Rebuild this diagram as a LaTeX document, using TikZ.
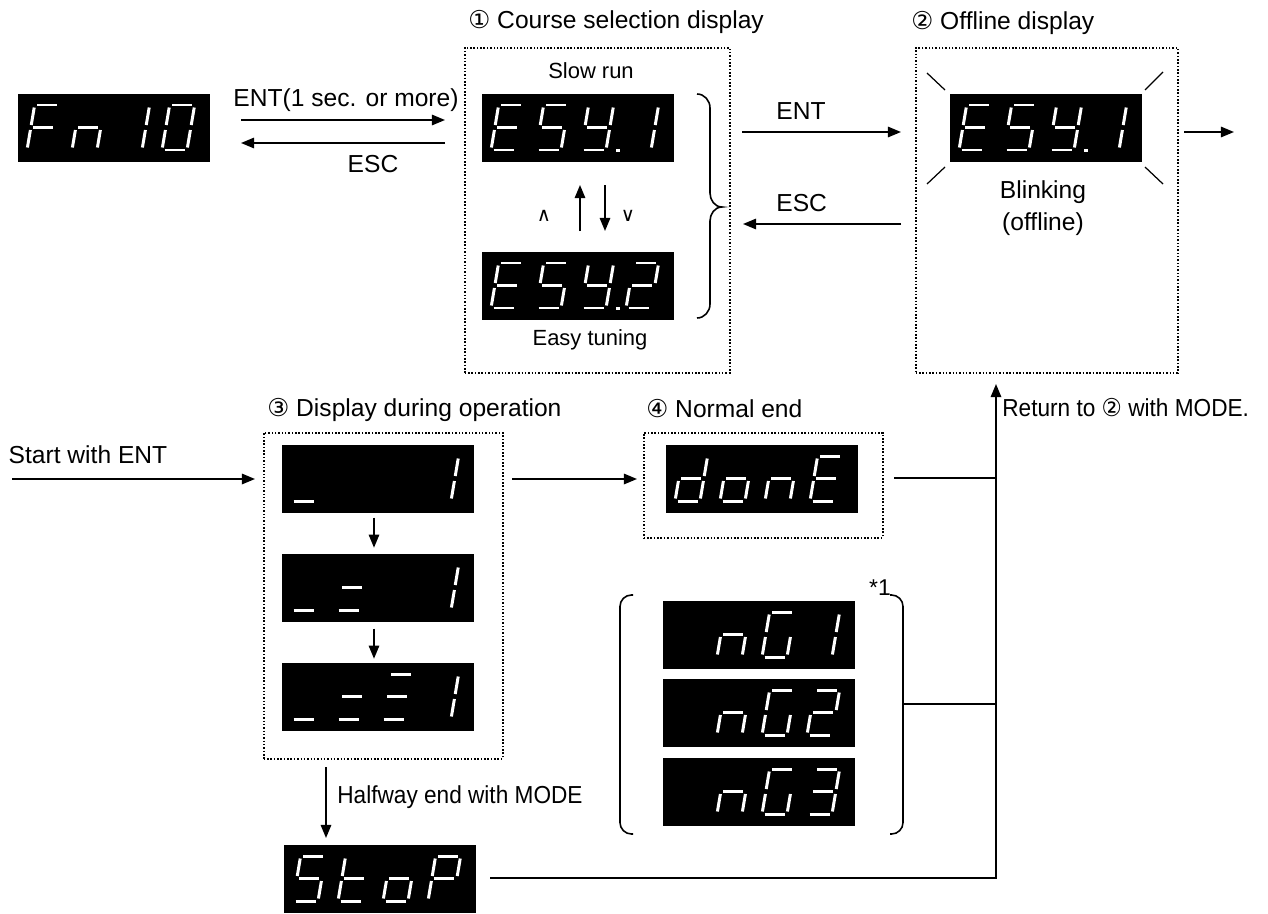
\documentclass[tikz,border=0pt]{standalone}
\usepackage{fontspec}
\usepackage{graphicx}
\setmainfont{Liberation Sans}
\newfontfamily\symfont{DejaVu Sans}
\usetikzlibrary{arrows.meta}
\tikzset{
  lbl/.style={font=\fontsize{14pt}{16pt}\selectfont, inner sep=0pt},
  sml/.style={font=\fontsize{12.5pt}{15pt}\selectfont, inner sep=0pt},
  disp/.style={fill=black, minimum width=3.84cm, minimum height=1.36cm, inner sep=0pt, anchor=north west},
  dbox/.style={draw, densely dotted, line width=0.9pt, inner sep=0pt, anchor=north west},
  conn/.style={line width=0.9pt},
  arr/.style={conn, -{Triangle[length=7.5pt,width=6pt]}},
  segline/.style={white, line width=1.7pt},
  ray/.style={line width=0.7pt},
  caret/.style={font=\symfont\fontsize{11pt}{12pt}\selectfont, inner sep=0pt},
}
% seven segment geometry (local units: px, y up)
\def\sega{(2.5,45)--(22.5,45)}
\def\segb{(25,42.5)--(25,25)}
\def\segc{(25,20)--(25,2.5)}
\def\segd{(2.5,0)--(22.5,0)}
\def\sege{(0,2.5)--(0,20)}
\def\segf{(0,25)--(0,42.5)}
\def\segg{(2.5,22.5)--(22.5,22.5)}
\def\segx{}
\newcommand\sevenseg[7]{%
  \foreach \dl [count=\di from 0] in {{#3},{#4},{#5},{#6}} {
    \begin{scope}[shift={(#1+9+45*\di,#2+56)}, y={(0,0.02cm)}, xslant=0.17]
      \foreach \s in \dl {\edef\tmp{\noexpand\draw[segline] \csname seg\s\endcsname;}\tmp}
    \end{scope}
  }
  \ifnum#7=1 \fill[white] (#1+134,#2+54.5) rectangle (#1+138,#2+58);\fi
}
\begin{document}
\begin{tikzpicture}[x=0.02cm, y=-0.02cm]
\useasboundingbox (0,0) rectangle (1268,913);

% ---------- dotted boxes ----------
\node[dbox, minimum width=5.3cm, minimum height=6.5cm] (cbox) at (464,47) {};
\node[dbox, minimum width=5.24cm, minimum height=6.5cm] (obox) at (915,47) {};
\node[dbox, minimum width=4.78cm, minimum height=6.52cm] (opbox) at (263,432) {};
\node[dbox, minimum width=4.78cm, minimum height=2.1cm] (dbx) at (643,432) {};

% ---------- titles ----------
\node[lbl, anchor=west] (t1) at (468,22) {{\symfont ①} Course selection display};
\node[lbl, anchor=west] (t2) at (911,23) {{\symfont ②} Offline display};
\node[lbl, anchor=west] (t3) at (267,410) {{\symfont ③} Display during operation};
\node[lbl, anchor=west] (t4) at (646,409) {{\symfont ④} Normal end};

% ---------- displays ----------
\node[disp] (fn) at (18,94) {};
\sevenseg{18}{94}{a,f,e,g}{e,g,c}{b,c}{a,b,c,d,e,f}{0}
\node[disp] (esy1) at (482,94) {};
\sevenseg{482}{94}{a,d,e,f,g}{a,f,g,c,d}{b,c,d,f,g}{b,c}{1}
\node[disp] (esy2) at (482,252) {};
\sevenseg{482}{252}{a,d,e,f,g}{a,f,g,c,d}{b,c,d,f,g}{a,b,g,e,d}{1}
\node[disp] (esyo) at (950,94) {};
\sevenseg{950}{94}{a,d,e,f,g}{a,f,g,c,d}{b,c,d,f,g}{b,c}{1}
\node[disp] (op1) at (282,445) {};
\sevenseg{282}{445}{d}{x}{x}{b,c}{0}
\node[disp] (op2) at (282,554) {};
\sevenseg{282}{554}{d}{g,d}{x}{b,c}{0}
\node[disp] (op3) at (282,663) {};
\sevenseg{282}{663}{d}{g,d}{a,g,d}{b,c}{0}
\node[disp] (done) at (666,445) {};
\sevenseg{666}{445}{b,c,d,e,g}{c,d,e,g}{c,e,g}{a,d,e,f,g}{0}
\node[disp] (ng1) at (663,601) {};
\sevenseg{663}{601}{x}{c,e,g}{a,f,e,d,c}{b,c}{0}
\node[disp] (ng2) at (663,679) {};
\sevenseg{663}{679}{x}{c,e,g}{a,f,e,d,c}{a,b,g,e,d}{0}
\node[disp] (ng3) at (663,758) {};
\sevenseg{663}{758}{x}{c,e,g}{a,f,e,d,c}{a,b,g,c,d}{0}
\node[disp] (stop) at (284,845) {};
\sevenseg{284}{845}{a,f,g,c,d}{f,e,d,g}{c,d,e,g}{a,b,f,g,e}{0}

% ---------- labels ----------
\node[lbl] (lent1) at (346,100) {ENT(1 sec. or more)};
\node[lbl] (lesc1) at (373,164) {ESC};
\node[sml] (slow) at (591,71) {Slow run};
\node[sml] (easy) at (590,340) {Easy tuning};
\node[lbl, anchor=west] (lent2) at (776,111) {ENT};
\node[lbl, anchor=west] (lesc2) at (776,203) {ESC};
\node[lbl] (blink) at (1043,192) {Blinking};
\node[lbl] (offl) at (1043,224) {(offline)};
\node[lbl] (start) at (88,455) {Start with ENT};
\node[lbl, anchor=west] (half) at (337,797) {\scalebox{0.92}[1]{Halfway end with MODE}};
\node[lbl, anchor=west] (ret) at (1002,408) {\scalebox{0.92}[1]{Return to {\symfont ②} with MODE.}};
\node[font=\fontsize{13pt}{15pt}\selectfont, inner sep=0pt] (star) at (880,588) {*1};
\node[caret] (upk) at (544,216) {∧};
\node[caret] (dnk) at (628,216) {∨};

% ---------- connector end points ----------
\coordinate (a1s) at (241,120); \coordinate (a1e) at (445,120);
\coordinate (a2s) at (445,143); \coordinate (a2e) at (241,143);
\coordinate (a3s) at (742,132); \coordinate (a3e) at (901,132);
\coordinate (a4s) at (901,224); \coordinate (a4e) at (743,224);
\coordinate (a5s) at (1184,132); \coordinate (a5e) at (1234,132);
\coordinate (ups) at (580,231); \coordinate (upe) at (580,185);
\coordinate (dns) at (605,185); \coordinate (dne) at (605,231);
\coordinate (sts) at (12,479); \coordinate (ste) at (255,479);
\coordinate (ods) at (512,479); \coordinate (ode) at (637,479);
\coordinate (hs) at (326,767); \coordinate (he) at (326,838);
\coordinate (rs) at (490,878); \coordinate (rc) at (996,878); \coordinate (re) at (996,384);
\coordinate (dls) at (894,478); \coordinate (dle) at (996,478);
\coordinate (ngs) at (903,704); \coordinate (nge) at (996,704);

% ---------- arrows ----------
\draw[arr] (a1s) -- (a1e);
\draw[arr] (a2s) -- (a2e);
\draw[arr] (a3s) -- (a3e);
\draw[arr] (a4s) -- (a4e);
\draw[arr] (a5s) -- (a5e);
\draw[arr] (ups) -- (upe);
\draw[arr] (dns) -- (dne);
\draw[arr] (sts) -- (ste);
\draw[arr] (ods) -- (ode);
\draw[arr] (op1.south -| 374,0) ++(0,4) -- ++(0,30);
\draw[arr] (op2.south -| 374,0) ++(0,6) -- ++(0,30);
\draw[arr] (hs) -- (he);
\draw[arr] (rs) -- (rc) -- (re);
\draw[conn] (dls) -- (dle);
\draw[conn] (ngs) -- (nge);

% ---------- brace of course selection ----------
\draw[conn] (697,94) to[out=0,in=90] (710,108) -- (710,193) to[out=-90,in=180] (722,207)
            to[out=180,in=90] (710,221) -- (710,304) to[out=-90,in=0] (697,318);

% ---------- brackets of nG ----------
\draw[conn, rounded corners=6.5pt] (633,595) -- (620,595) -- (620,834) -- (633,834);
\draw[conn, rounded corners=6.5pt] (890,595) -- (903,595) -- (903,834) -- (890,834);

% ---------- blinking rays ----------
\draw[ray] (927,73) -- (945,90);
\draw[ray] (1145,90) -- (1163,72);
\draw[ray] (927,184) -- (945,167);
\draw[ray] (1145,167) -- (1163,184);
\end{tikzpicture}
\end{document}
